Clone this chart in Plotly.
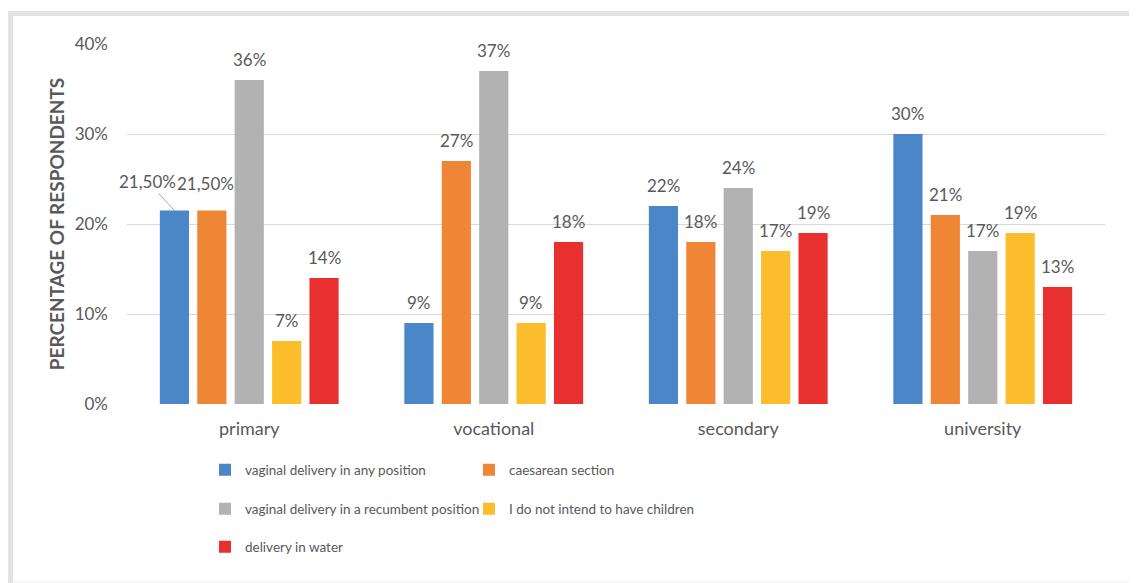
import plotly.graph_objects as go

categories = ["primary", "vocational", "secondary", "university"]
series_names = [
    "vaginal delivery in any position",
    "caesarean section",
    "vaginal delivery in a recumbent position",
    "I do not intend to have children",
    "delivery in water",
]
vaginal_any = [21.5, 9, 22, 30]
caesarean = [21.5, 27, 18, 21]
recumbent = [36, 37, 24, 17]
no_children = [7, 9, 17, 19]
water = [14, 18, 19, 13]
values = [vaginal_any, caesarean, recumbent, no_children, water]
labels = [
    ["21,50%", "9%", "22%", "30%"],
    ["21,50%", "27%", "18%", "21%"],
    ["36%", "37%", "24%", "17%"],
    ["7%", "9%", "17%", "19%"],
    ["14%", "18%", "19%", "13%"],
]
colors = ["#4a86c8", "#ee8636", "#b2b2b2", "#fbbd2b", "#e8302f"]
y_ticks = [0, 10, 20, 30, 40]
y_tick_labels = ["0%", "10%", "20%", "30%", "40%"]

FONT = "Lato"
GRAY = "#595959"
OFF = 8  # browser body margin
W, H = 1137 - OFF, 583 - OFF
# plot area in reference pixel coordinates
PX0, PX1, PY0, PY1 = 127, 1105, 44, 404
ML, MR, MT, MB = PX0 - OFF, W - (PX1 - OFF), PY0 - OFF, H - (PY1 - OFF)
BARGAP = 0.235
plot_w = W - ML - MR
plot_h = H - MT - MB
cat_px = plot_w / len(categories)
n = len(values)


def px_x(p):
    return (p - PX0) / plot_w


def px_y(p):
    return (PY1 - p) / plot_h


fig = go.Figure()
legend_ids = ["legend", "legend", "legend2", "legend2", "legend3"]
for i, (name, vals, col) in enumerate(zip(series_names, values, colors)):
    fig.add_trace(go.Bar(
        x=categories, y=vals, name=name, marker_color=col,
        marker_line_width=0, legend=legend_ids[i], hoverinfo="x+y+name",
    ))

annotations = []
for i in range(n):
    off = (-0.5 + (i + 0.5) / n) * (1 - BARGAP) * cat_px
    for j, cat in enumerate(categories):
        a = dict(x=cat, y=values[i][j], xref="x", yref="y", text=labels[i][j],
                 font=dict(family=FONT, size=17, color=GRAY), xshift=off)
        if i == 0 and j == 0:
            a.update(showarrow=True, arrowhead=0, arrowwidth=1, arrowcolor="#a6a6a6",
                     ax=-27, ay=-29, standoff=0)
        elif i == 1 and j == 0:
            a.update(showarrow=False, yanchor="bottom", yshift=15, xshift=off - 6)
        else:
            a.update(showarrow=False, yanchor="bottom", yshift=8)
        annotations.append(a)

legend_common = dict(orientation="h", xanchor="left", yanchor="middle", entrywidth=219,
                     traceorder="normal", font=dict(size=13.5, color=GRAY),
                     bgcolor="rgba(0,0,0,0)")
LEG_X = px_x(205)

fig.update_layout(
    width=W, height=H,
    margin=dict(l=ML, r=MR, t=MT, b=MB, pad=0, autoexpand=False),
    paper_bgcolor="white", plot_bgcolor="white",
    barmode="group", bargap=BARGAP, bargroupgap=0.22,
    font=dict(family=FONT, size=15, color=GRAY),
    annotations=annotations,
    xaxis=dict(range=[-0.5, len(categories) - 0.5], autorange=False,
               showgrid=False, showline=False, ticks="", tickfont=dict(size=18, color=GRAY),
               ticklabelstandoff=12, automargin=False),
    yaxis=dict(range=[0, 40], autorange=False, tickmode="array", tickvals=y_ticks,
               ticktext=y_tick_labels,
               showgrid=True, gridcolor="#d9d9d9", gridwidth=1, zeroline=False,
               showline=False, automargin=False,
               tickfont=dict(size=17, color=GRAY), ticklabelstandoff=18,
               title=dict(text="<b>PERCENTAGE OF RESPONDENTS</b>",
                          font=dict(size=19, color=GRAY), standoff=4)),
    legend=dict(x=LEG_X, y=px_y(470), **legend_common),
    legend2=dict(x=LEG_X, y=px_y(509), **legend_common),
    legend3=dict(x=LEG_X, y=px_y(547), **legend_common),
    showlegend=True,
)

# light gray frame around the chart (reference pixel coordinates)
fig.add_shape(type="rect", xref="paper", yref="paper", x0=px_x(8), x1=px_x(1140),
              y0=px_y(16), y1=px_y(11), fillcolor="#e2e2e2", line_width=0, layer="below")
fig.add_shape(type="rect", xref="paper", yref="paper", x0=px_x(8), x1=px_x(13),
              y0=px_y(590), y1=px_y(11), fillcolor="#e2e2e2", line_width=0, layer="below")
fig.add_shape(type="line", xref="paper", yref="paper", x0=px_x(13), x1=px_x(1140),
              y0=px_y(582), y1=px_y(582), line=dict(color="#eeeeee", width=1), layer="below")
fig.add_shape(type="line", xref="paper", yref="paper", x0=px_x(1136), x1=px_x(1136),
              y0=px_y(590), y1=px_y(16), line=dict(color="#f0f0f0", width=1), layer="below")

fig.write_html("out.html")
